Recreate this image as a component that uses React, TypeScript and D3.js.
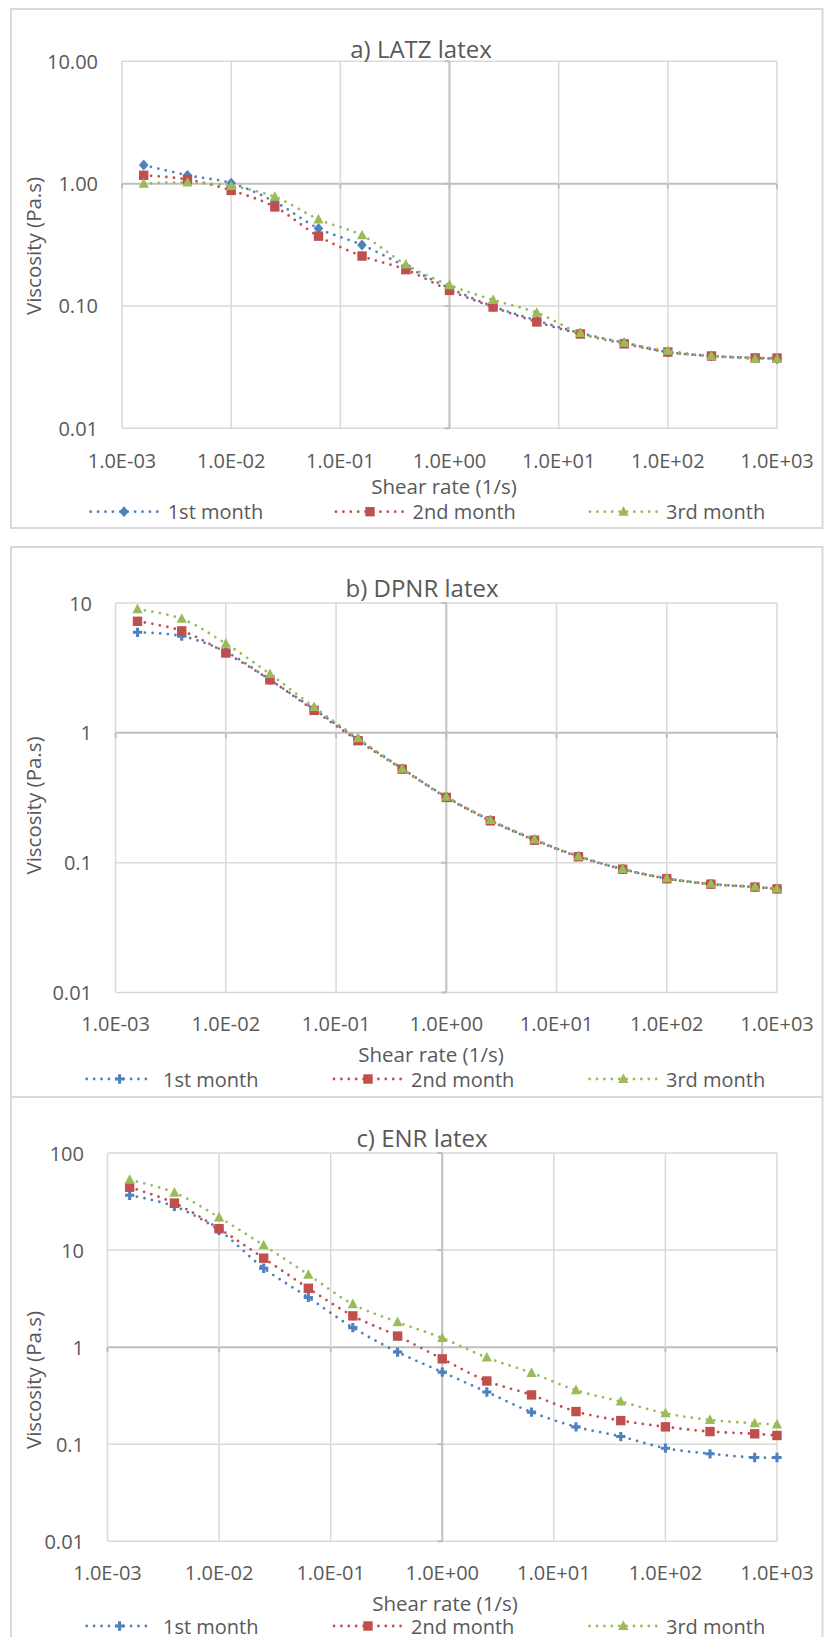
import React from 'react';
import * as d3 from 'd3';

// ---------- data ----------
const shearRate = [0.00158, 0.00398, 0.01, 0.0251, 0.0631, 0.158, 0.398, 1, 2.51, 6.31, 15.8, 39.8, 100, 251, 631, 1000];

const latz1 = [1.42, 1.17, 1.01, 0.71, 0.43, 0.315, 0.21, 0.14, 0.099, 0.076, 0.060, 0.050, 0.042, 0.039, 0.0376, 0.037];
const latz2 = [1.17, 1.08, 0.88, 0.645, 0.372, 0.256, 0.198, 0.134, 0.098, 0.074, 0.059, 0.049, 0.042, 0.039, 0.0376, 0.0375];
const latz3 = [1.00, 1.02, 0.955, 0.78, 0.51, 0.378, 0.218, 0.148, 0.112, 0.088, 0.060, 0.050, 0.043, 0.039, 0.037, 0.037];

const dpnr1 = [5.95, 5.56, 4.2, 2.56, 1.52, 0.89, 0.53, 0.32, 0.212, 0.15, 0.112, 0.089, 0.0755, 0.0685, 0.065, 0.063];
const dpnr2 = [7.23, 6.1, 4.12, 2.56, 1.49, 0.87, 0.525, 0.318, 0.21, 0.149, 0.111, 0.089, 0.0752, 0.0683, 0.0648, 0.0628];
const dpnr3 = [8.96, 7.55, 4.86, 2.84, 1.58, 0.907, 0.528, 0.322, 0.213, 0.151, 0.112, 0.0895, 0.0757, 0.0687, 0.0652, 0.0632];

const enr1 = [36.7, 28.2, 16.0, 6.5, 3.25, 1.59, 0.89, 0.553, 0.345, 0.214, 0.151, 0.12, 0.091, 0.0797, 0.073, 0.073];
const enr2 = [44.4, 30.5, 16.6, 8.25, 4.04, 2.1, 1.30, 0.757, 0.448, 0.322, 0.217, 0.175, 0.151, 0.135, 0.128, 0.123];
const enr3 = [52.9, 39, 21.7, 11.2, 5.57, 2.77, 1.81, 1.24, 0.78, 0.543, 0.36, 0.275, 0.208, 0.178, 0.164, 0.16];

const seriesNames = ['1st month', '2nd month', '3rd month'];
const seriesColors = ['#4f81bd', '#c0504d', '#9bbb59'];

const xTickValues = [0.001, 0.01, 0.1, 1, 10, 100, 1000];
const xTickLabels = ['1.0E-03', '1.0E-02', '1.0E-01', '1.0E+00', '1.0E+01', '1.0E+02', '1.0E+03'];

const latzYTickValues = [10, 1, 0.1, 0.01];
const latzYTickLabels = ['10.00', '1.00', '0.10', '0.01'];
const dpnrYTickValues = [10, 1, 0.1, 0.01];
const dpnrYTickLabels = ['10', '1', '0.1', '0.01'];
const enrYTickValues = [100, 10, 1, 0.1, 0.01];
const enrYTickLabels = ['100', '10', '1', '0.1', '0.01'];

const titles = ['a) LATZ latex', 'b) DPNR latex', 'c) ENR latex'];
const xTitle = 'Shear rate (1/s)';
const yTitle = 'Viscosity (Pa.s)';

// ---------- layout ----------
const panels = [
  {
    title: titles[0], series: [latz1, latz2, latz3], yTicks: latzYTickValues, yLabels: latzYTickLabels,
    markers: ['diamond', 'square', 'triangle'],
    border: { x: 11, y: 9, w: 811.5, h: 519 },
    plot: { l: 122, r: 777, t: 61.3, b: 428.3 },
    titleX: 421, titleY: 48.5, yTickRight: 98, xTickY: 460, xTitleX: 444, xTitleY: 486,
    yTitleX: 33, yTitleY: 246, legendY: 511.7,
    legLines: [[90.7, 157.3], [336, 404], [590, 657]], legText: [167.7, 412.5, 666],
  },
  {
    title: titles[1], series: [dpnr1, dpnr2, dpnr3], yTicks: dpnrYTickValues, yLabels: dpnrYTickLabels,
    markers: ['cross', 'square', 'triangle'],
    border: { x: 11, y: 547, w: 811.5, h: 550 },
    plot: { l: 115.6, r: 777, t: 603, b: 992.5 },
    titleX: 422, titleY: 587, yTickRight: 92, xTickY: 1023.5, xTitleX: 431, xTitleY: 1054,
    yTitleX: 33, yTitleY: 805.5, legendY: 1079,
    legLines: [[86.7, 152.4], [334, 402], [589.6, 657]], legText: [163, 411, 666],
  },
  {
    title: titles[2], series: [enr1, enr2, enr3], yTicks: enrYTickValues, yLabels: enrYTickLabels,
    markers: ['cross', 'square', 'triangle'],
    border: { x: 11, y: 1097, w: 811.5, h: 600 },
    plot: { l: 107.5, r: 777, t: 1153, b: 1541.3 },
    titleX: 422, titleY: 1137, yTickRight: 84, xTickY: 1572.5, xTitleX: 445, xTitleY: 1602.5,
    yTitleX: 33, yTitleY: 1380, legendY: 1626,
    legLines: [[86.7, 152.4], [334, 402], [589.6, 657]], legText: [163, 411, 666],
  },
];

const FONT = '"Open Sans", "Noto Sans", sans-serif';
const TEXT = '#595959';
const GRID = '#d9d9d9';
const AXIS = '#bfbfbf';

function Marker({ type, x, y, color }: { type: string; x: number; y: number; color: string }) {
  if (type === 'diamond') {
    return <path d={`M${x},${y - 5.4} L${x + 4.8},${y} L${x},${y + 5.4} L${x - 4.8},${y} Z`} fill={color} />;
  }
  if (type === 'square') {
    return <rect x={x - 4.7} y={y - 4.7} width={9.4} height={9.4} fill={color} />;
  }
  if (type === 'triangle') {
    return <path d={`M${x},${y - 5.6} L${x + 5.1},${y + 4} L${x - 5.1},${y + 4} Z`} fill={color} />;
  }
  // cross / plus
  const s = d3.symbol().type(d3.symbolCross).size(48)();
  return <path d={s || ''} transform={`translate(${x},${y})`} fill={color} />;
}

function Panel({ p }: { p: any }) {
  const x = d3.scaleLog().domain([0.001, 1000]).range([p.plot.l, p.plot.r]);
  const yDomain = [p.yTicks[p.yTicks.length - 1], p.yTicks[0]];
  const y = d3.scaleLog().domain(yDomain).range([p.plot.b, p.plot.t]);
  const line = d3
    .line<number>()
    .x((_, i) => x(shearRate[i]))
    .y((d) => y(d))
    .curve(d3.curveCatmullRom.alpha(0.5));

  return (
    <g>
      <rect x={p.border.x} y={p.border.y} width={p.border.w} height={p.border.h} fill="#fff" stroke={GRID} strokeWidth={2} />
      {/* gridlines */}
      {p.yTicks.map((t: number, i: number) => (
        <line key={'hy' + i} x1={p.plot.l} x2={p.plot.r} y1={y(t)} y2={y(t)} stroke={t === 1 ? AXIS : GRID} strokeWidth={t === 1 ? 2 : 1.5} />
      ))}
      {xTickValues.map((t, i) => (
        <line key={'vx' + i} x1={x(t)} x2={x(t)} y1={p.plot.t} y2={p.plot.b} stroke={t === 1 ? AXIS : GRID} strokeWidth={t === 1 ? 2 : 1.5} />
      ))}
      {/* tick marks on the axis crossing lines */}
      {p.yTicks.map((t: number, i: number) => (
        <line key={'tk' + i} x1={x(1) - 5} x2={x(1)} y1={y(t)} y2={y(t)} stroke={AXIS} strokeWidth={2} />
      ))}
      {xTickValues.map((t, i) => (
        <line key={'tkx' + i} x1={x(t)} x2={x(t)} y1={y(1)} y2={y(1) + 5} stroke={AXIS} strokeWidth={2} />
      ))}
      {/* series */}
      {p.series.map((s: number[], si: number) => (
        <g key={'s' + si}>
          <path d={line(s) || ''} fill="none" stroke={seriesColors[si]} strokeWidth={2.8} strokeDasharray="0 7.6" strokeLinecap="round" />
          {s.map((v, i) => (
            <Marker key={i} type={p.markers[si]} x={x(shearRate[i])} y={y(v)} color={seriesColors[si]} />
          ))}
        </g>
      ))}
      {/* title */}
      <text x={p.titleX} y={p.titleY} textAnchor="middle" dominantBaseline="central" fontFamily={FONT} fontSize={24} fill={TEXT}>
        {p.title}
      </text>
      {/* y tick labels */}
      {p.yTicks.map((t: number, i: number) => (
        <text key={'yl' + i} x={p.yTickRight} y={y(t)} textAnchor="end" dominantBaseline="central" fontFamily={FONT} fontSize={20} fill={TEXT}>
          {p.yLabels[i]}
        </text>
      ))}
      {/* x tick labels */}
      {xTickValues.map((t, i) => (
        <text key={'xl' + i} x={x(t)} y={p.xTickY} textAnchor="middle" dominantBaseline="central" fontFamily={FONT} fontSize={20} fill={TEXT}>
          {xTickLabels[i]}
        </text>
      ))}
      {/* axis titles */}
      <text x={p.xTitleX} y={p.xTitleY} textAnchor="middle" dominantBaseline="central" fontFamily={FONT} fontSize={20.5} fill={TEXT}>
        {xTitle}
      </text>
      <text
        transform={`translate(${p.yTitleX},${p.yTitleY}) rotate(-90)`}
        textAnchor="middle"
        dominantBaseline="central"
        fontFamily={FONT}
        fontSize={20.5}
        fill={TEXT}
      >
        {yTitle}
      </text>
      {/* legend */}
      {seriesNames.map((n, i) => {
        const [a, b] = p.legLines[i];
        return (
          <g key={'lg' + i}>
            <line x1={a} x2={b} y1={p.legendY} y2={p.legendY} stroke={seriesColors[i]} strokeWidth={2.8} strokeDasharray="0 7.4" strokeLinecap="round" />
            <Marker type={p.markers[i]} x={(a + b) / 2} y={p.legendY} color={seriesColors[i]} />
            <text x={p.legText[i]} y={p.legendY} dominantBaseline="central" fontFamily={FONT} fontSize={20} fill={TEXT}>
              {n}
            </text>
          </g>
        );
      })}
    </g>
  );
}

export default function App() {
  return (
    <svg
      width={824}
      height={1637}
      viewBox="0 0 824 1637"
      style={{ position: 'absolute', left: 0, top: 0, background: '#fff' }}
    >
      <rect x={0} y={0} width={824} height={1637} fill="#fff" />
      {panels.map((p, i) => (
        <Panel key={i} p={p} />
      ))}
    </svg>
  );
}
